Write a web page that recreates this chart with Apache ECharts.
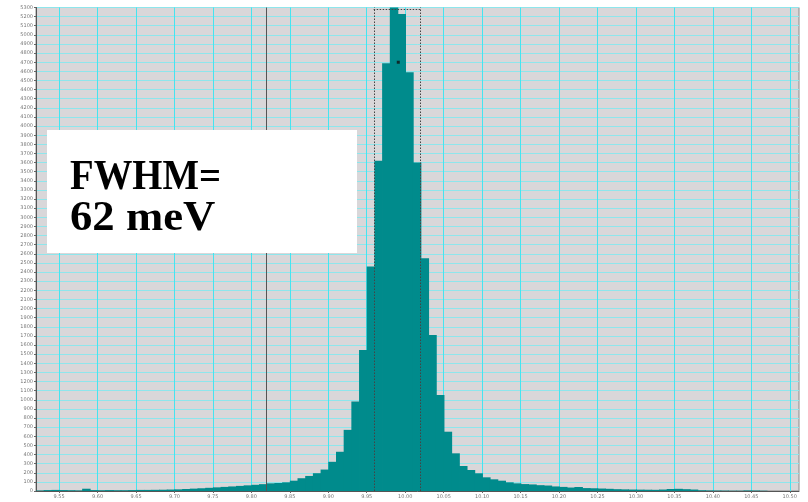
<!DOCTYPE html>
<html>
<head>
<meta charset="utf-8">
<title>Energy histogram</title>
<script src="https://cdn.jsdelivr.net/npm/echarts@6/dist/echarts.min.js"></script>
<style>
  html, body { margin: 0; padding: 0; background: #ffffff; }
  #chart { width: 808px; height: 502px; }
</style>
</head>
<body>
<div id="chart"></div>
<script>
// Left edge of each 0.01 eV bin
const binLeft = [
  9.52, 9.53, 9.54, 9.55, 9.56, 9.57, 9.58, 9.59, 9.60, 9.61,
  9.62, 9.63, 9.64, 9.65, 9.66, 9.67, 9.68, 9.69, 9.70, 9.71,
  9.72, 9.73, 9.74, 9.75, 9.76, 9.77, 9.78, 9.79, 9.80, 9.81,
  9.82, 9.83, 9.84, 9.85, 9.86, 9.87, 9.88, 9.89, 9.90, 9.91,
  9.92, 9.93, 9.94, 9.95, 9.96, 9.97, 9.98, 9.99, 10.00, 10.01,
  10.02, 10.03, 10.04, 10.05, 10.06, 10.07, 10.08, 10.09, 10.10, 10.11,
  10.12, 10.13, 10.14, 10.15, 10.16, 10.17, 10.18, 10.19, 10.20, 10.21,
  10.22, 10.23, 10.24, 10.25, 10.26, 10.27, 10.28, 10.29, 10.30, 10.31,
  10.32, 10.33, 10.34, 10.35, 10.36, 10.37, 10.38, 10.39, 10.40, 10.41,
  10.42, 10.43, 10.44, 10.45, 10.46
];
const binWidth = 0.01;

// Counts per bin
const counts = [
  5, 10, 12, 10, 8, 6, 25, 10, 8, 10,
  8, 8, 10, 12, 12, 13, 14, 16, 18, 22,
  26, 30, 35, 40, 45, 50, 56, 62, 68, 75,
  84, 88, 95, 113, 140, 165, 195, 235, 320, 430,
  670, 980, 1545, 2460, 3620, 4690, 5300, 5230, 4590, 3600,
  2550, 1710, 1052, 650, 413, 274, 230, 194, 150, 128,
  113, 95, 84, 76, 72, 64, 60, 50, 45, 38,
  44, 32, 30, 27, 24, 20, 18, 16, 15, 14,
  13, 16, 22, 24, 20, 16, 8, 6, 5, 4,
  3, 3, 6, 5, 3
];

// Energy axis labels
const xTicks = [9.55, 9.60, 9.65, 9.70, 9.75, 9.80, 9.85, 9.90, 9.95, 10.00,
                10.05, 10.10, 10.15, 10.20, 10.25, 10.30, 10.35, 10.40, 10.45, 10.50];

// Cursor and FWHM markers
const cursorX = 9.82;
const fwhmLeft = 9.959;
const fwhmRight = 10.021;
const fwhmTop = 5280;
const pointMarker = [[9.991, 4700]];

const histData = binLeft.map((x0, i) => [x0, x0 + binWidth, counts[i]]);

const chart = echarts.init(document.getElementById('chart'), null, { renderer: 'canvas' });

const dotted = { color: '#444444', width: 1, type: [1.5, 1.5] };

chart.setOption({
  animation: false,
  backgroundColor: '#ffffff',
  grid: {
    left: 36, right: 9, top: 7.5, bottom: 11,
    show: true,
    backgroundColor: '#d9d7d9',
    borderColor: '#8a8a8a',
    borderWidth: 1
  },
  xAxis: {
    type: 'value',
    min: 9.52,
    max: 10.512,
    axisLine: { show: true, lineStyle: { color: '#555555', width: 1 } },
    axisTick: { show: true, customValues: xTicks, length: 2, lineStyle: { color: '#666666' } },
    axisLabel: {
      customValues: xTicks,
      formatter: v => v.toFixed(2),
      fontSize: 5,
      color: '#777777',
      margin: 3,
      fontFamily: 'DejaVu Sans'
    },
    splitLine: { show: true, lineStyle: { color: '#45e4f0', width: 1 } }
  },
  yAxis: {
    type: 'value',
    min: 0,
    max: 5300,
    interval: 100,
    axisLine: { show: true, lineStyle: { color: '#555555', width: 1 } },
    axisTick: { show: true, length: 2, lineStyle: { color: '#666666' } },
    axisLabel: {
      fontSize: 5, color: '#777777', margin: 3, fontFamily: 'DejaVu Sans',
      formatter: v => String(v)
    },
    splitLine: { show: true, lineStyle: { color: '#8ee6ec', width: 1 } }
  },
  series: [
    {
      type: 'custom',
      name: 'counts',
      data: histData,
      encode: { x: [0, 1], y: 2 },
      renderItem: function (params, api) {
        const p0 = api.coord([api.value(0), api.value(2)]);
        const p1 = api.coord([api.value(1), 0]);
        return {
          type: 'rect',
          shape: { x: p0[0], y: p0[1], width: p1[0] - p0[0] + 0.8, height: p1[1] - p0[1] },
          style: { fill: '#008b8c' }
        };
      },
      z: 3
    },
    {
      type: 'line',
      data: [],
      z: 5,
      markLine: {
        silent: true,
        symbol: 'none',
        label: { show: false },
        animation: false,
        z: 6,
        data: [
          { xAxis: cursorX, lineStyle: { color: '#555555', width: 1, type: 'solid' } },
          { xAxis: fwhmLeft, lineStyle: dotted },
          { xAxis: fwhmRight, lineStyle: dotted },
          [
            { coord: [fwhmLeft, fwhmTop], lineStyle: dotted },
            { coord: [fwhmRight, fwhmTop] }
          ]
        ]
      }
    },
    {
      type: 'scatter',
      data: pointMarker,
      symbol: 'rect',
      symbolSize: 3,
      itemStyle: { color: '#111111' },
      z: 7
    }
  ],
  graphic: [
    {
      type: 'rect',
      shape: { x: 47, y: 130, width: 310, height: 123 },
      style: { fill: '#ffffff' },
      z: 100
    },
    {
      type: 'text',
      x: 70, y: 199,
      scaleX: 0.9,
      style: {
        text: 'FWHM=',
        font: 'bold 43px "Liberation Serif"',
        fill: '#000000',
        textVerticalAlign: 'bottom'
      },
      z: 101
    },
    {
      type: 'text',
      x: 70, y: 240,
      scaleX: 1.04,
      style: {
        text: '62 meV',
        font: 'bold 43px "Liberation Serif"',
        fill: '#000000',
        textVerticalAlign: 'bottom'
      },
      z: 101
    }
  ]
});
</script>
</body>
</html>
